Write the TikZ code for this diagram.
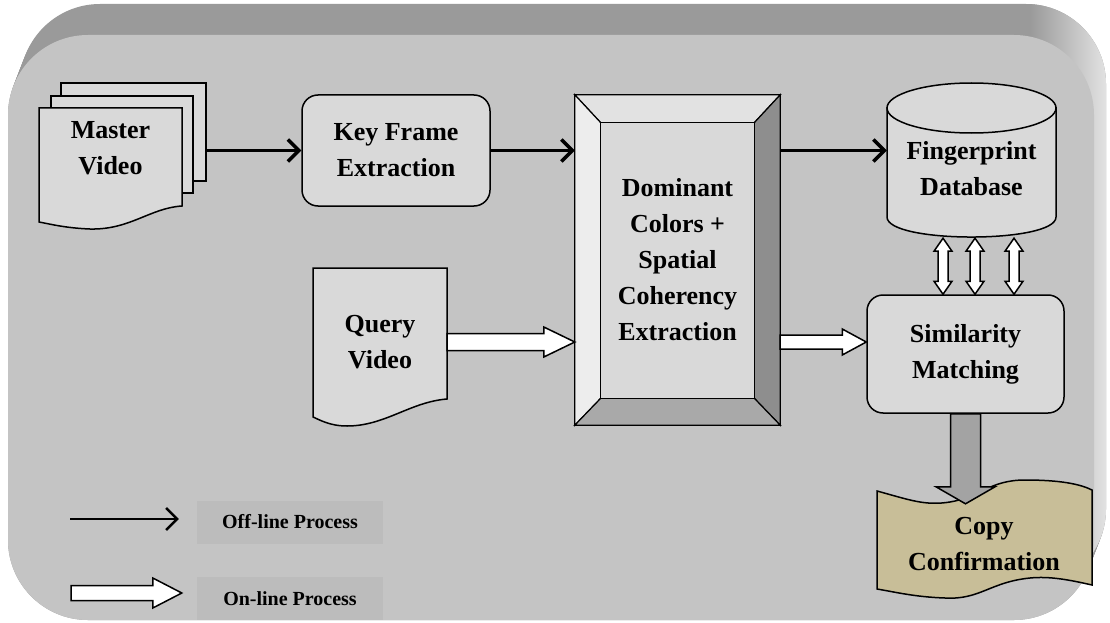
\documentclass[tikz,border=0pt]{standalone}
\usepackage{fontspec}
\setmainfont{Liberation Serif}
\usetikzlibrary{arrows.meta,calc,backgrounds}
\definecolor{boxgray}{HTML}{D9D9D9}
\definecolor{panelgray}{HTML}{C4C4C4}
\definecolor{topgray}{HTML}{9A9A9A}
\definecolor{rimgray}{HTML}{E6E6E6}
\definecolor{leggray}{HTML}{BCBCBC}
\definecolor{bevlight}{HTML}{EDEDED}
\definecolor{bevtop}{HTML}{E2E2E2}
\definecolor{bevdark}{HTML}{8E8E8E}
\definecolor{bevbot}{HTML}{A9A9A9}
\definecolor{arrgray}{HTML}{A3A3A3}
\definecolor{paper}{HTML}{C8BE98}
\newcommand{\nodefont}{\fontsize{26}{36}\selectfont\bfseries}
\newcommand{\legfont}{\fontsize{20}{24}\selectfont\bfseries}
% block arrows: style, from, to, half shaft, half head, head length
\newcommand{\blockh}[6]{%
  \draw[#1] ($(#2)+(0,-#4)$) -- ($(#3)+(-#6,-#4)$) -- ($(#3)+(-#6,-#5)$) -- (#3)
    -- ($(#3)+(-#6,#5)$) -- ($(#3)+(-#6,#4)$) -- ($(#2)+(0,#4)$) -- cycle;}
\newcommand{\blockv}[6]{%
  \draw[#1] ($(#2)+(-#4,0)$) -- ($(#3)+(-#4,-#6)$) -- ($(#3)+(-#5,-#6)$) -- (#3)
    -- ($(#3)+(#5,-#6)$) -- ($(#3)+(#4,-#6)$) -- ($(#2)+(#4,0)$) -- cycle;}
\newcommand{\blockud}[6]{%
  \draw[#1] (#2) -- ($(#2)+(#5,#6)$) -- ($(#2)+(#4,#6)$) -- ($(#3)+(#4,-#6)$)
    -- ($(#3)+(#5,-#6)$) -- (#3) -- ($(#3)+(-#5,-#6)$) -- ($(#3)+(-#4,-#6)$)
    -- ($(#2)+(-#4,#6)$) -- ($(#2)+(-#5,#6)$) -- cycle;}
\tikzset{
  sheet/.style={draw,line width=1.5pt,fill=boxgray},
  rnd/.style={sheet,rounded corners=16pt,align=center,font=\nodefont},
  txt/.style={align=center,font=\nodefont,inner sep=0pt},
  bevel/.style={draw,line width=1.2pt},
  offl/.style={line width=3.5pt,-{Straight Barb[length=11pt,width=22pt]}},
  onl/.style={line width=1.5pt,fill=white},
  gry/.style={line width=1.5pt,fill=arrgray},
  legbox/.style={fill=leggray,minimum width=186pt,minimum height=43pt,inner sep=0pt,font=\legfont},
}

\begin{document}
\begin{tikzpicture}[x=1pt,y=-1pt]
  \useasboundingbox (0,0) rectangle (1110,623);
  % raised panel
  \begin{scope}[on background layer]
    \fill[white] (0,0) rectangle (1110,623);
    \foreach \k in {0,...,12}
      \fill[topgray,rounded corners=80pt] ({8+\k},{35-31*\k/12}) rectangle ({1094+\k},{620-31*\k/12});
    \begin{scope}
      \clip[rounded corners=80pt] (20,4) rectangle (1106,589);
      \shade[left color=topgray,right color=rimgray] (1030,0) rectangle (1110,623);
    \end{scope}
    \fill[panelgray,rounded corners=80pt] (8,35) rectangle (1094,620);
  \end{scope}

  % master video
  \node[sheet,minimum width=145pt,minimum height=98pt] (mvback) at (133.5,132) {};
  \node[sheet,minimum width=142pt,minimum height=97pt] (mvmid) at (122,144.5) {};
  \draw[sheet] (39,108) -- (182,108) -- (182,206) .. controls (150,208) and (130,230) .. (90,229)
    .. controls (65,228) and (50,224) .. (39,222) -- cycle;
  \node[txt,minimum width=143pt] (mv) at (110.5,148) {Master\\Video};

  \node[rnd,minimum width=188pt,minimum height=111pt] (kf) at (396,150.5) {Key Frame\\Extraction};

  % query video
  \draw[sheet] (313,268) -- (447,268) -- (447,399) .. controls (410,402) and (385,426) .. (347,426)
    .. controls (330,426) and (320,420) .. (313,417) -- cycle;
  \node[txt,minimum width=134pt] (qv) at (380,342) {Query\\Video};

  % dominant colors box
  \node[txt,minimum width=205pt,minimum height=330pt] (dom) at (677.5,260)
    {Dominant\\Colors +\\Spatial\\Coherency\\Extraction};
  \begin{scope}[on background layer]
    \coordinate (d1) at ($(dom.north west)+(26,28)$);
    \coordinate (d2) at ($(dom.north east)+(-26,28)$);
    \coordinate (d3) at ($(dom.south east)+(-26,-27)$);
    \coordinate (d4) at ($(dom.south west)+(26,-27)$);
    \filldraw[bevel,fill=bevtop] (dom.north west) -- (dom.north east) -- (d2) -- (d1) -- cycle;
    \filldraw[bevel,fill=bevlight] (dom.north west) -- (d1) -- (d4) -- (dom.south west) -- cycle;
    \filldraw[bevel,fill=bevdark] (dom.north east) -- (dom.south east) -- (d3) -- (d2) -- cycle;
    \filldraw[bevel,fill=bevbot] (dom.south west) -- (dom.south east) -- (d3) -- (d4) -- cycle;
    \filldraw[bevel,fill=boxgray] (d1) rectangle (d3);
  \end{scope}

  % fingerprint database
  \draw[sheet] (887,108) -- (887,217) .. controls (887,243.7) and (1056,243.7) .. (1056,217) -- (1056,108) -- cycle;
  \draw[sheet] (971.5,108) ellipse [x radius=84.5, y radius=25];
  \node[txt,minimum width=169pt,minimum height=138pt] (fp) at (971.5,169) {Fingerprint\\Database};

  \node[rnd,minimum width=197pt,minimum height=118pt] (sim) at (965.5,354) {Similarity\\Matching};

  % copy confirmation
  \draw[sheet,fill=paper] (877,491) .. controls (910,500) and (925,506) .. (950,502)
    .. controls (980,497) and (990,480) .. (1025,480) .. controls (1060,480) and (1080,484) .. (1092,490)
    -- (1092,585) .. controls (1070,580) and (1050,576) .. (1030,578)
    .. controls (990,582) and (980,600) .. (945,598) .. controls (915,597) and (895,592) .. (877,589) -- cycle;
  \node[txt,minimum width=215pt,minimum height=106pt] (cc) at (984,544) {Copy\\Confirmation};

  % off-line flow
  \draw[offl] (mvback.east |- kf.west) -- (kf.west);
  \draw[offl] (kf.east) -- (kf.east -| dom.west);
  \draw[offl] (kf.east -| dom.east) -- (kf.east -| fp.west);

  % on-line flow
  \coordinate (qa) at (qv.east -| dom.west);
  \blockh{onl}{qv.east}{qa}{8.5}{15}{31}
  \coordinate (sa) at (qv.east -| sim.west);
  \coordinate (sb) at (qv.east -| dom.east);
  \blockh{onl}{sb}{sa}{7}{13}{24}
  \foreach \dx in {-28.5,3.5,42.5}{
    \coordinate (db) at ($(fp.south)+(\dx,0)$);
    \coordinate (sm) at (db |- sim.north);
    \blockud{onl}{db}{sm}{5}{9}{13}
  }
  \coordinate (ct) at ($(sim.south |- cc.north)+(0,13)$);
  \blockv{gry}{sim.south}{ct}{15}{29.5}{17}

  % legend
  \node[legbox] (leg1) at (290,522) {Off-line Process};
  \node[legbox] (leg2) at (290,598.5) {On-line Process};
  \coordinate (l1) at (70,519);
  \draw[offl,line width=2.5pt] (l1) -- ($(l1 -| leg1.west)+(-18,0)$);
  \coordinate (l2) at (71,593);
  \coordinate (l2e) at ($(l2 -| leg2.west)+(-15,0)$);
  \blockh{onl}{l2}{l2e}{7.5}{15}{29}
\end{tikzpicture}
\end{document}
